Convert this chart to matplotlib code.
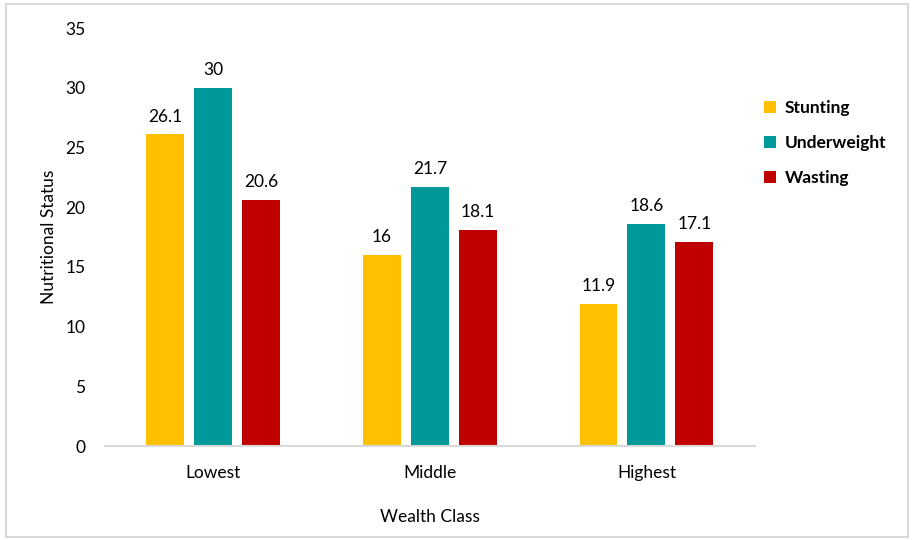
import numpy as np
import matplotlib.pyplot as plt
from matplotlib.patches import Rectangle

categories = ['Lowest', 'Middle', 'Highest']
series = ['Stunting', 'Underweight', 'Wasting']
stunting = [26.1, 16, 11.9]
underweight = [30, 21.7, 18.6]
wasting = [20.6, 18.1, 17.1]
colors = ['#FFC000', '#009999', '#C00000']
yticks = [0, 5, 10, 15, 20, 25, 30, 35]

plt.rcParams['font.family'] = ['Lato', 'DejaVu Sans']
fs = 12.5

fig = plt.figure(figsize=(9.15, 5.4), dpi=100)
ax = fig.add_axes([0.1148, 0.174, 0.710, 0.774])

# light gray frame round the whole chart
fig.patches.append(Rectangle((6 / 915, 3 / 540), 902 / 915, 533 / 540,
                             transform=fig.transFigure, fill=False,
                             edgecolor='#D9D9D9', linewidth=1.5))

x = np.arange(len(categories))
width = 0.175
step = 0.2215
for k, (name, vals) in enumerate(zip(series, [stunting, underweight, wasting])):
    pos = x + (k - 1) * step
    bars = ax.bar(pos, vals, width, color=colors[k], label=name)
    for b, v in zip(bars, vals):
        ax.annotate('%g' % v, (b.get_x() + b.get_width() / 2, v),
                    xytext=(0, 7), textcoords='offset points',
                    ha='center', va='bottom', fontsize=fs, color='#000000')

ax.set_xlim(-0.5, 2.5)
ax.set_ylim(0, 35)
ax.set_xticks(x)
ax.set_xticklabels(categories, fontsize=fs)
ax.set_yticks(yticks)
ax.set_yticklabels([str(t) for t in yticks], fontsize=fs)
ax.tick_params(length=0)
ax.tick_params(axis='x', pad=14)
ax.tick_params(axis='y', pad=14)
for s in ['top', 'right', 'left']:
    ax.spines[s].set_visible(False)
ax.spines['bottom'].set_color('#D9D9D9')
ax.spines['bottom'].set_linewidth(1.5)

ax.set_ylabel('Nutritional Status', fontsize=fs, labelpad=6)
ax.set_xlabel('Wealth Class', fontsize=fs, labelpad=20)

leg = ax.legend(loc='upper left', bbox_to_anchor=(0.99, 0.865), frameon=False,
                prop={'weight': 'bold', 'size': fs}, handlelength=0.7,
                handleheight=0.7, handletextpad=0.5, labelspacing=1.1)

fig.savefig('out.png', dpi=100)
